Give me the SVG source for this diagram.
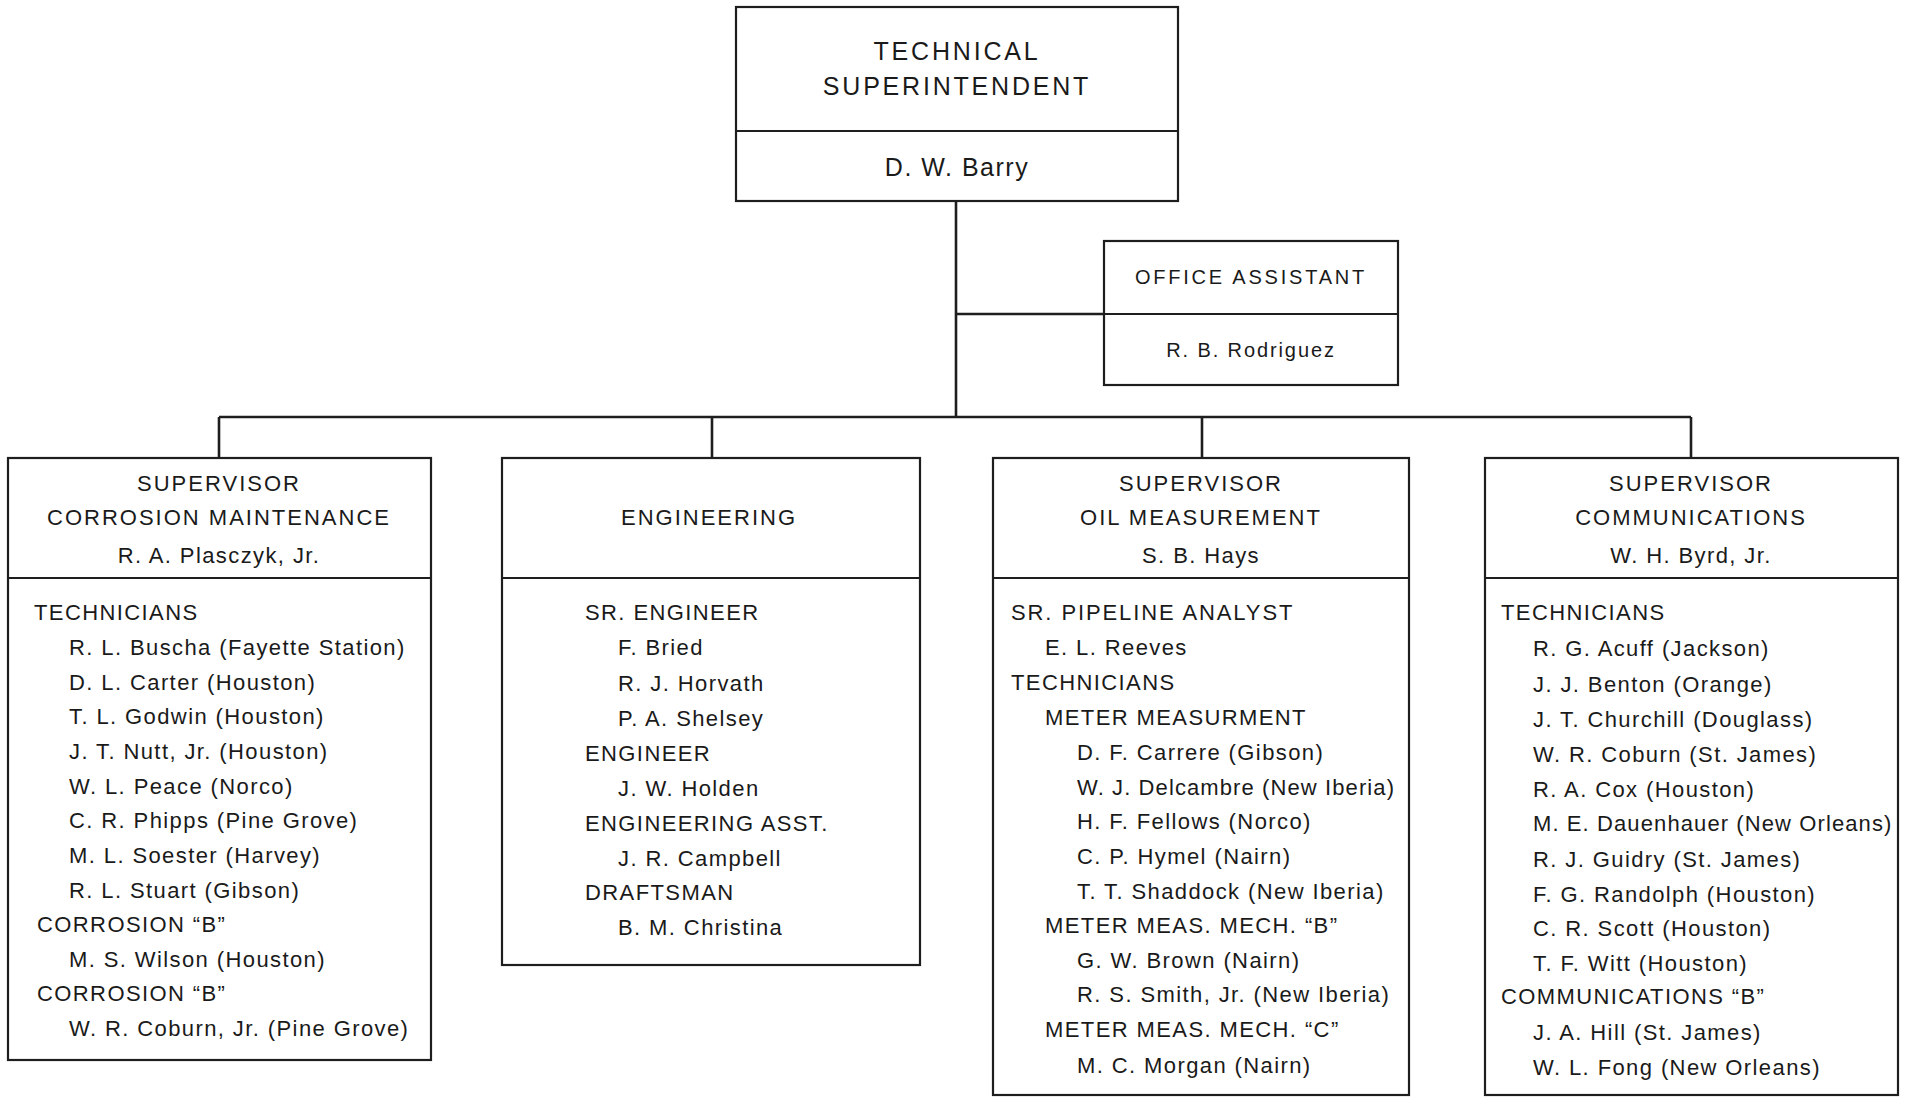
<svg xmlns="http://www.w3.org/2000/svg" width="1908" height="1097" viewBox="0 0 1908 1097">
<style>
.box{fill:none;stroke:#1e1e1e;stroke-width:2.2}
.div{stroke:#1e1e1e;stroke-width:2.2}
.con{stroke:#1e1e1e;stroke-width:2.6;fill:none}
text{font-family:"Liberation Sans",Arial,sans-serif;fill:#1a1a1a}
.top{font-size:25px;letter-spacing:2.8px;text-anchor:middle}
.topn{font-size:25px;letter-spacing:1.5px;text-anchor:middle}
.oa{font-size:20px;letter-spacing:2.8px;text-anchor:middle}
.oan{font-size:20px;letter-spacing:1.9px;text-anchor:middle}
.hd{font-size:22px;letter-spacing:2px;text-anchor:middle}
.hn{font-size:22px;letter-spacing:1.4px;text-anchor:middle}
.li{font-size:22px;letter-spacing:1.4px}
.tight{letter-spacing:1.1px}
</style>
<rect width="1908" height="1097" fill="#ffffff"/>
<g id="connectors">
<path class="con" d="M956 201 V417"/>
<path class="con" d="M956 314 H1104"/>
<path class="con" d="M219 417 H1691"/>
<path class="con" d="M219 417 V458 M712 417 V458 M1202 417 V458 M1691 417 V458"/>
</g>
<g id="technical-superintendent">
<rect class="box" x="736" y="7" width="442" height="194"/>
<line class="div" x1="736" y1="131" x2="1178" y2="131"/>
<text class="top" x="957" y="60">TECHNICAL</text>
<text class="top" x="957" y="95">SUPERINTENDENT</text>
<text class="topn" x="957" y="176">D. W. Barry</text>
</g>
<g id="office-assistant">
<rect class="box" x="1104" y="241" width="294" height="144"/>
<line class="div" x1="1104" y1="314" x2="1398" y2="314"/>
<text class="oa" x="1251" y="284">OFFICE ASSISTANT</text>
<text class="oan" x="1251" y="357">R. B. Rodriguez</text>
</g>
<g id="corrosion-maintenance">
<rect class="box" x="8" y="458" width="423" height="602"/>
<line class="div" x1="8" y1="578" x2="431" y2="578"/>
<text class="hd" x="219" y="491">SUPERVISOR</text>
<text class="hd" x="219" y="525">CORROSION MAINTENANCE</text>
<text class="hn" x="219" y="563">R. A. Plasczyk, Jr.</text>
<text class="li" x="34" y="620">TECHNICIANS</text>
<text class="li" x="69" y="655">R. L. Buscha (Fayette Station)</text>
<text class="li" x="69" y="690">D. L. Carter (Houston)</text>
<text class="li" x="69" y="724">T. L. Godwin (Houston)</text>
<text class="li" x="69" y="759">J. T. Nutt, Jr. (Houston)</text>
<text class="li" x="69" y="794">W. L. Peace (Norco)</text>
<text class="li" x="69" y="828">C. R. Phipps (Pine Grove)</text>
<text class="li" x="69" y="863">M. L. Soester (Harvey)</text>
<text class="li" x="69" y="898">R. L. Stuart  (Gibson)</text>
<text class="li" x="37" y="932">CORROSION “B”</text>
<text class="li" x="69" y="967">M. S. Wilson (Houston)</text>
<text class="li" x="37" y="1001">CORROSION “B”</text>
<text class="li" x="69" y="1036">W. R. Coburn, Jr. (Pine Grove)</text>
</g>
<g id="engineering">
<rect class="box" x="502" y="458" width="418" height="507"/>
<line class="div" x1="502" y1="578" x2="920" y2="578"/>
<text class="hd" x="709" y="525">ENGINEERING</text>
<text class="li" x="585" y="620">SR. ENGINEER</text>
<text class="li" x="618" y="655">F. Bried</text>
<text class="li" x="618" y="691">R. J. Horvath</text>
<text class="li" x="618" y="726">P. A. Shelsey</text>
<text class="li" x="585" y="761">ENGINEER</text>
<text class="li" x="618" y="796">J. W. Holden</text>
<text class="li" x="585" y="831">ENGINEERING ASST.</text>
<text class="li" x="618" y="866">J. R. Campbell</text>
<text class="li" x="585" y="900">DRAFTSMAN</text>
<text class="li" x="618" y="935">B. M. Christina</text>
</g>
<g id="oil-measurement">
<rect class="box" x="993" y="458" width="416" height="637"/>
<line class="div" x1="993" y1="578" x2="1409" y2="578"/>
<text class="hd" x="1201" y="491">SUPERVISOR</text>
<text class="hd" x="1201" y="525">OIL MEASUREMENT</text>
<text class="hn" x="1201" y="563">S. B. Hays</text>
<text class="li" x="1011" y="620" style="letter-spacing:1.9px">SR. PIPELINE ANALYST</text>
<text class="li" x="1045" y="655">E. L. Reeves</text>
<text class="li" x="1011" y="690">TECHNICIANS</text>
<text class="li" x="1045" y="725">METER MEASURMENT</text>
<text class="li" x="1077" y="760">D. F. Carrere (Gibson)</text>
<text class="li tight" x="1077" y="795">W. J. Delcambre (New Iberia)</text>
<text class="li" x="1077" y="829">H. F. Fellows (Norco)</text>
<text class="li" x="1077" y="864">C. P. Hymel (Nairn)</text>
<text class="li" x="1077" y="899">T. T. Shaddock (New Iberia)</text>
<text class="li" x="1045" y="933">METER MEAS. MECH. “B”</text>
<text class="li" x="1077" y="968">G. W. Brown (Nairn)</text>
<text class="li" x="1077" y="1002">R. S. Smith, Jr. (New Iberia)</text>
<text class="li" x="1045" y="1037">METER MEAS. MECH. “C”</text>
<text class="li" x="1077" y="1073">M. C. Morgan (Nairn)</text>
</g>
<g id="communications">
<rect class="box" x="1485" y="458" width="413" height="637"/>
<line class="div" x1="1485" y1="578" x2="1898" y2="578"/>
<text class="hd" x="1691" y="491">SUPERVISOR</text>
<text class="hd" x="1691" y="525">COMMUNICATIONS</text>
<text class="hn" x="1691" y="563">W. H. Byrd, Jr.</text>
<text class="li" x="1501" y="620">TECHNICIANS</text>
<text class="li" x="1533" y="656">R. G. Acuff (Jackson)</text>
<text class="li" x="1533" y="692">J. J. Benton (Orange)</text>
<text class="li" x="1533" y="727">J. T. Churchill (Douglass)</text>
<text class="li" x="1533" y="762">W. R. Coburn (St. James)</text>
<text class="li" x="1533" y="797">R. A. Cox (Houston)</text>
<text class="li tight" x="1533" y="831">M. E. Dauenhauer (New Orleans)</text>
<text class="li" x="1533" y="867">R. J. Guidry (St. James)</text>
<text class="li" x="1533" y="902">F. G. Randolph (Houston)</text>
<text class="li" x="1533" y="936">C. R. Scott (Houston)</text>
<text class="li" x="1533" y="971">T. F. Witt (Houston)</text>
<text class="li" x="1501" y="1004">COMMUNICATIONS “B”</text>
<text class="li" x="1533" y="1040">J. A. Hill (St. James)</text>
<text class="li" x="1533" y="1075">W. L. Fong (New Orleans)</text>
</g>
</svg>
